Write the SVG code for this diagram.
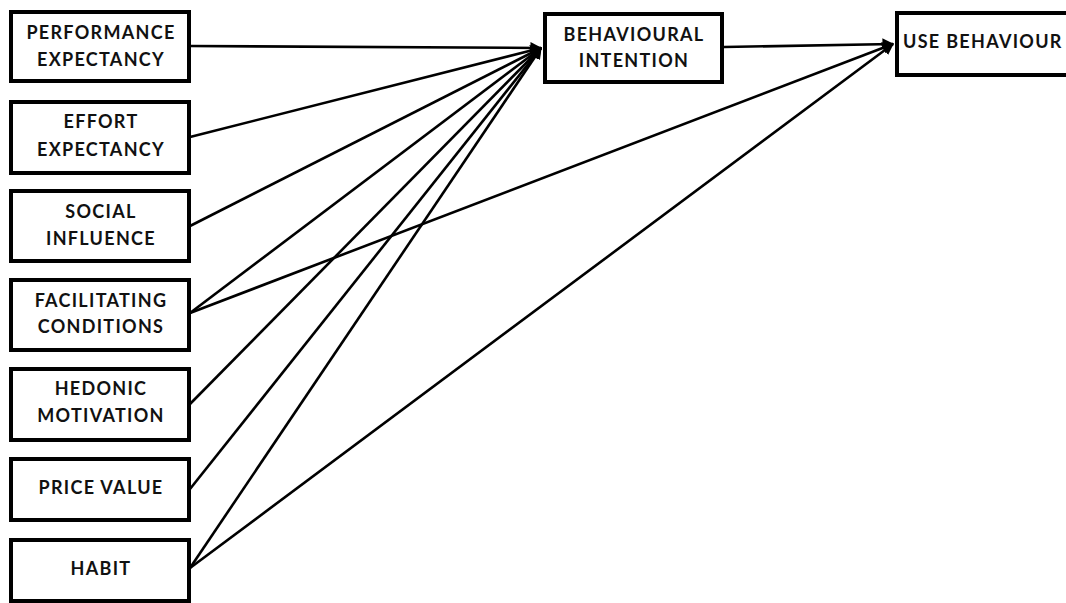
<svg xmlns="http://www.w3.org/2000/svg" width="1066" height="603" viewBox="0 0 1066 603">
<defs>
<style>
.box{fill:#fff;stroke:#000;stroke-width:4}
.t{font-family:Lato,"Liberation Sans",sans-serif;font-weight:700;font-size:18px;letter-spacing:1.3px;fill:#111;text-anchor:middle}
.c{stroke:#000;stroke-width:2.6;fill:none}
</style>
<marker id="ah" viewBox="0 0 10 10" refX="9" refY="5" markerWidth="4.5" markerHeight="4.5" orient="auto" markerUnits="strokeWidth">
<path d="M0,0 L10,5 L0,10 z" fill="#000"/>
</marker>
</defs>
<rect width="1066" height="603" fill="#fff"/>
<g id="connectors">
<line class="c" x1="190" y1="46" x2="541" y2="48" marker-end="url(#ah)"/>
<line class="c" x1="190" y1="137" x2="541" y2="48" marker-end="url(#ah)"/>
<line class="c" x1="190" y1="226" x2="541" y2="48" marker-end="url(#ah)"/>
<line class="c" x1="190" y1="313" x2="541" y2="48" marker-end="url(#ah)"/>
<line class="c" x1="190" y1="404" x2="541" y2="48" marker-end="url(#ah)"/>
<line class="c" x1="190" y1="489" x2="541" y2="48" marker-end="url(#ah)"/>
<line class="c" x1="190" y1="568" x2="541" y2="48" marker-end="url(#ah)"/>
<line class="c" x1="190" y1="313" x2="893" y2="44" marker-end="url(#ah)"/>
<line class="c" x1="190" y1="568" x2="893" y2="44" marker-end="url(#ah)"/>
<line class="c" x1="724" y1="47" x2="893" y2="44" marker-end="url(#ah)"/>
</g>
<g id="pe"><rect class="box" x="11" y="12" width="178" height="69"/><text class="t" x="101" y="39">PERFORMANCE</text><text class="t" x="101" y="66">EXPECTANCY</text></g>
<g id="ee"><rect class="box" x="11" y="102" width="178" height="71"/><text class="t" x="101" y="128">EFFORT</text><text class="t" x="101" y="156">EXPECTANCY</text></g>
<g id="si"><rect class="box" x="11" y="191" width="178" height="70"/><text class="t" x="101" y="218">SOCIAL</text><text class="t" x="101" y="245">INFLUENCE</text></g>
<g id="fc"><rect class="box" x="11" y="280" width="178" height="70"/><text class="t" x="101" y="307">FACILITATING</text><text class="t" x="101" y="333">CONDITIONS</text></g>
<g id="hm"><rect class="box" x="11" y="369" width="178" height="71"/><text class="t" x="101" y="395">HEDONIC</text><text class="t" x="101" y="422">MOTIVATION</text></g>
<g id="pv"><rect class="box" x="11" y="459" width="178" height="61"/><text class="t" x="101" y="494">PRICE VALUE</text></g>
<g id="hb"><rect class="box" x="11" y="540" width="178" height="61"/><text class="t" x="101" y="575">HABIT</text></g>
<g id="bi"><rect class="box" x="545" y="14" width="177" height="68"/><text class="t" x="634" y="41">BEHAVIOURAL</text><text class="t" x="634" y="67">INTENTION</text></g>
<g id="ub"><rect class="box" x="897" y="13" width="180" height="62"/><text class="t" x="903" y="48" style="text-anchor:start">USE BEHAVIOUR</text></g>
</svg>
